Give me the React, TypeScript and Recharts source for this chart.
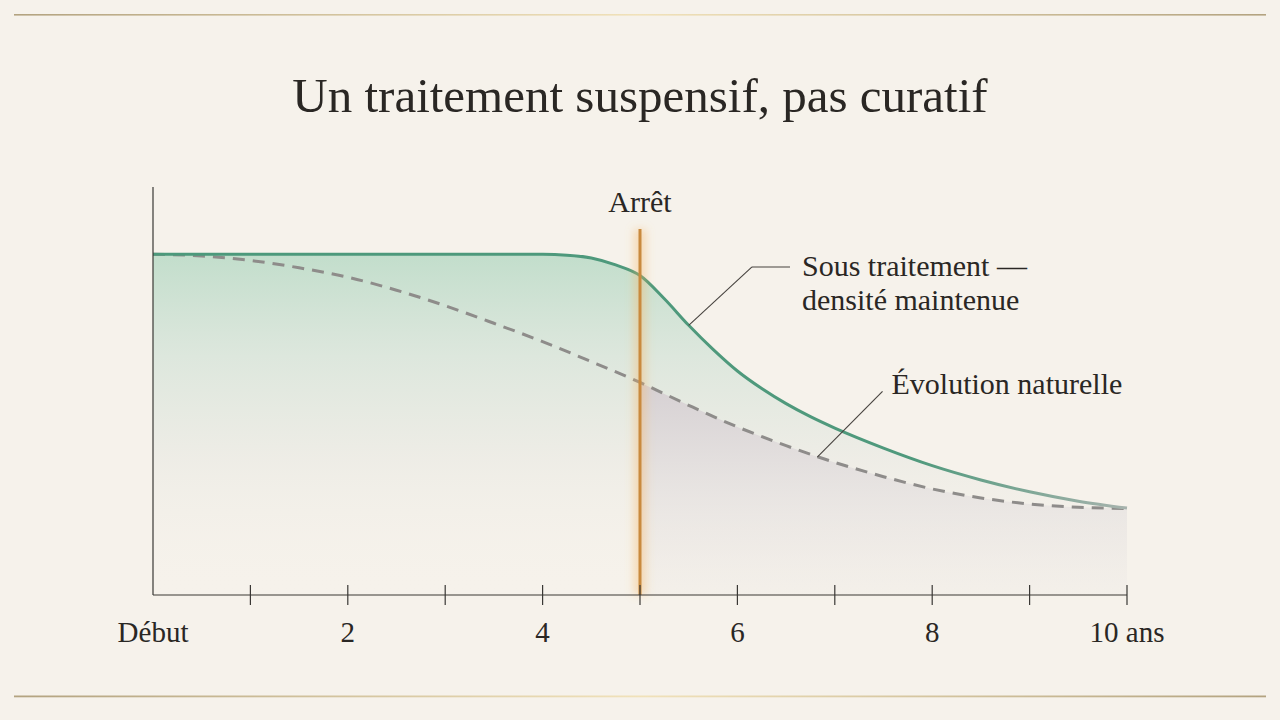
import {
  ComposedChart,
  Area,
  Line,
  XAxis,
  YAxis,
  ReferenceLine,
} from "recharts";

// years on the horizontal axis; quarter steps where the treated curve bends
const years = [0, 0.5, 1, 1.5, 2, 2.5, 3, 3.5, 4, 4.25, 4.5, 4.75, 5, 5.25, 5.5, 5.75, 6, 6.25, 6.5, 6.75, 7, 7.5, 8, 8.5, 9, 9.5, 10];
const underTreatment = [83.5, 83.5, 83.5, 83.5, 83.5, 83.5, 83.5, 83.5, 83.5, 83.3, 82.6, 80.9, 78.3, 72.6, 66.1, 60.2, 54.9, 50.6, 46.9, 43.7, 40.9, 36.0, 31.7, 28.2, 25.3, 23.0, 21.3];
const naturalCourse = [83.5, 83.1, 82.0, 80.2, 77.9, 74.7, 70.9, 66.6, 62.1, null, 57.2, null, 52.1, null, 46.5, null, 41.2, null, 36.6, null, 32.5, 29.0, 26.0, 23.8, 22.3, 21.5, 21.2];

const stopYear = 5;
const stopTop = 89.7;
const tickYears = [0, 1, 2, 3, 4, 5, 6, 7, 8, 9, 10];
const tickLabels = ["Début", "", "2", "", "4", "", "6", "", "8", "", "10 ans"];

const treatmentLeader = [
  { x: 5.5, y: 66.1 },
  { x: 6.15, y: 80.4 },
  { x: 6.54, y: 80.4 },
];
const naturalLeader = [
  { x: 6.82, y: 33.8 },
  { x: 7.49, y: 49.9 },
];

const FONT = '"Liberation Serif", "DejaVu Serif", serif';
const INK = "#2a2724";
const BG = "#f6f2eb";
const AXIS = "#3a3835";

const data = years.map((year, i) => ({
  year,
  treated: underTreatment[i],
  natural: naturalCourse[i],
  naturalAfterStop: year >= stopYear ? naturalCourse[i] : null,
}));

function YearTick(props: any) {
  const { x, y, payload } = props;
  const idx = tickYears.indexOf(payload.value);
  const label = idx >= 0 ? tickLabels[idx] : "";
  return (
    <g>
      {payload.value !== 0 && (
        <line x1={x} x2={x} y1={y - 10} y2={y + 10} stroke={AXIS} strokeWidth={1.2} />
      )}
      {label && (
        <text x={x} y={y + 47} textAnchor="middle" fontFamily={FONT} fontSize={29} fill={INK}>
          {label}
        </text>
      )}
    </g>
  );
}

function GlowLine(props: any) {
  const { x1, y1, x2, y2 } = props;
  return (
    <g>
      <line x1={x1} y1={y1} x2={x2} y2={y2} stroke="#f5b462" strokeOpacity={0.4} strokeWidth={12} filter="url(#glow)" />
      <line x1={x1} y1={y1} x2={x2} y2={y2} stroke="#c98a3e" strokeWidth={3} />
    </g>
  );
}

function StopLabel(props: any) {
  const vb = props.viewBox || {};
  const x = (vb.x ?? 0) + (vb.width ?? 0) / 2;
  return (
    <text x={x} y={(vb.y ?? 0) - 17} textAnchor="middle" fontFamily={FONT} fontSize={30} fill={INK}>
      Arrêt
    </text>
  );
}

function TreatmentLabel(props: any) {
  const vb = props.viewBox || {};
  const x = (vb.x ?? 0) + (vb.width ?? 0) + 12;
  const y = vb.y ?? 0;
  return (
    <text fontFamily={FONT} fontSize={30} fill={INK}>
      <tspan x={x} y={y + 9}>Sous traitement —</tspan>
      <tspan x={x} y={y + 43}>densité maintenue</tspan>
    </text>
  );
}

function NaturalLabel(props: any) {
  const vb = props.viewBox || {};
  const x = (vb.x ?? 0) + (vb.width ?? 0) + 9;
  return (
    <text x={x} y={(vb.y ?? 0) + 3} fontFamily={FONT} fontSize={30} fill={INK}>
      Évolution naturelle
    </text>
  );
}

export default function App() {
  return (
    <div
      style={{
        position: "absolute",
        left: 0,
        top: 0,
        width: 1280,
        height: 720,
        background: BG,
        overflow: "hidden",
      }}
    >
      <svg width={1280} height={720} style={{ position: "absolute", left: 0, top: 0 }}>
        <defs>
          <linearGradient id="rule" x1="0" x2="1" y1="0" y2="0">
            <stop offset="0" stopColor="#b3a380" />
            <stop offset="0.5" stopColor="#f1e2ba" />
            <stop offset="1" stopColor="#b3a380" />
          </linearGradient>
        </defs>
        <rect x={14} y={14} width={1252} height={1.6} fill="url(#rule)" />
        <rect x={14} y={695.5} width={1252} height={1.8} fill="url(#rule)" />
        <text x={640} y={112} textAnchor="middle" fontFamily={FONT} fontSize={49} fill={INK}>
          Un traitement suspensif, pas curatif
        </text>
      </svg>
      <div style={{ position: "absolute", left: 0, top: 0 }}>
        <ComposedChart
          width={1280}
          height={720}
          data={data}
          margin={{ top: 187, right: 153, bottom: 65, left: 143 }}
        >
          <defs>
            <linearGradient id="greenFill" x1="0" x2="0" y1="0" y2="1">
              <stop offset="0" stopColor="#9fd0b6" stopOpacity={0.6} />
              <stop offset="0.3" stopColor="#c4dccf" stopOpacity={0.5} />
              <stop offset="0.6" stopColor="#e4e6e0" stopOpacity={0.45} />
              <stop offset="1" stopColor={BG} stopOpacity={0} />
            </linearGradient>
            <linearGradient id="grayFill" x1="0" x2="0" y1="0" y2="1">
              <stop offset="0" stopColor="#d6d0d3" stopOpacity={1} />
              <stop offset="0.5" stopColor="#e5e1e0" stopOpacity={0.8} />
              <stop offset="1" stopColor="#f1ede8" stopOpacity={0.5} />
            </linearGradient>
            <linearGradient id="greenStroke" x1="0" x2="1" y1="0" y2="0">
              <stop offset="0" stopColor="#4c997b" />
              <stop offset="0.78" stopColor="#4f997c" />
              <stop offset="1" stopColor="#a7b3ad" />
            </linearGradient>
            <filter id="glow" filterUnits="userSpaceOnUse" x="0" y="0" width="1280" height="720">
              <feGaussianBlur stdDeviation="4" />
            </filter>
          </defs>
          <XAxis
            dataKey="year"
            type="number"
            domain={[0, 10]}
            ticks={tickYears}
            interval={0}
            height={60}
            tickSize={0}
            tickMargin={0}
            tickLine={false}
            axisLine={{ stroke: AXIS, strokeWidth: 1.2 }}
            tick={<YearTick />}
          />
          <YAxis
            domain={[0, 100]}
            width={10}
            tick={false}
            tickLine={false}
            axisLine={{ stroke: AXIS, strokeWidth: 1.2 }}
          />
          <Area
            type="monotone"
            dataKey="treated"
            stroke="none"
            fill="url(#greenFill)"
            fillOpacity={1}
            isAnimationActive={false}
          />
          <Area
            type="monotone"
            dataKey="naturalAfterStop"
            stroke="none"
            fill="url(#grayFill)"
            fillOpacity={1}
            connectNulls
            isAnimationActive={false}
          />
          <Line
            type="monotone"
            dataKey="natural"
            stroke="#8e8c8a"
            strokeWidth={3}
            strokeDasharray="12 8"
            connectNulls
            dot={false}
            activeDot={false}
            isAnimationActive={false}
          />
          <Line
            type="monotone"
            dataKey="treated"
            stroke="url(#greenStroke)"
            strokeWidth={3}
            dot={false}
            activeDot={false}
            isAnimationActive={false}
          />
          <ReferenceLine
            segment={[treatmentLeader[0], treatmentLeader[1]]}
            stroke="#46423e"
            strokeWidth={1.1}
          />
          <ReferenceLine
            segment={[treatmentLeader[1], treatmentLeader[2]]}
            stroke="#46423e"
            strokeWidth={1.1}
            label={<TreatmentLabel />}
          />
          <ReferenceLine
            segment={[naturalLeader[0], naturalLeader[1]]}
            stroke="#46423e"
            strokeWidth={1.1}
            label={<NaturalLabel />}
          />
          <ReferenceLine
            segment={[{ x: stopYear, y: 0 }, { x: stopYear, y: stopTop }]}
            shape={<GlowLine />}
            label={<StopLabel />}
          />
        </ComposedChart>
      </div>
    </div>
  );
}
